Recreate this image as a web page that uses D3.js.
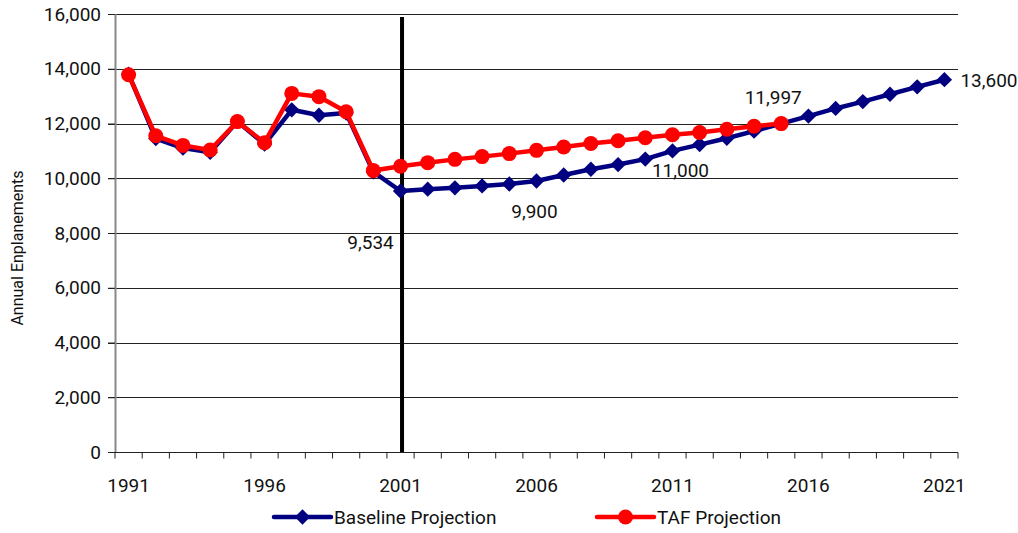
<!DOCTYPE html>
<html>
<head>
<meta charset="utf-8">
<script src="https://cdn.jsdelivr.net/npm/d3@7"></script>
<style>
  html, body { margin: 0; padding: 0; background: #fff; }
  svg { display: block; }
  text { font-family: Roboto, "Open Sans", sans-serif; fill: #111; }
</style>
</head>
<body>
<svg id="chart" width="1018" height="533"></svg>
<script>
// Annual enplanements, 1991-2021
const years = d3.range(1991, 2022);

const baseline = [13800, 11450, 11100, 10950, 12070, 11250, 12500, 12300, 12380, 10230,
                  9534, 9600, 9650, 9720, 9790, 9900, 10120, 10330, 10500, 10700,
                  11000, 11230, 11460, 11720, 11997, 12270, 12550, 12800, 13070, 13340, 13600];

const taf = [13780, 11550, 11200, 11030, 12070, 11300, 13100, 12980, 12430, 10280,
             10440, 10570, 10690, 10790, 10900, 11020, 11140, 11270, 11370, 11480,
             11590, 11670, 11790, 11900, 11997];

const yTicks = [0, 2000, 4000, 6000, 8000, 10000, 12000, 14000, 16000];
const xLabelYears = [1991, 1996, 2001, 2006, 2011, 2016, 2021];

// Callout labels: [year, value, dx, dy]
const callouts = [
  { year: 2001, value: 9534, text: "9,534", dx: -30, dy: 58 },
  { year: 2006, value: 9900, text: "9,900", dx: -2, dy: 37 },
  { year: 2011, value: 11000, text: "11,000", dx: 8, dy: 26 },
  { year: 2015, value: 11997, text: "11,997", dx: -8, dy: -20 },
  { year: 2021, value: 13600, text: "13,600", dx: 16, dy: 7 }
];

const svg = d3.select("#chart");
const margin = { left: 115, right: 60, top: 14, bottom: 81 };
const W = 1018, H = 533;
const plotW = W - margin.left - margin.right;   // 843
const plotH = H - margin.top - margin.bottom;   // 438

const x = d3.scaleBand().domain(years).range([margin.left, margin.left + plotW]).paddingInner(0).paddingOuter(0);
const cx = yr => x(yr) + x.bandwidth() / 2;
const y = d3.scaleLinear().domain([0, 16000]).range([margin.top + plotH, margin.top]);

const fmt = d3.format(",");
const labelSize = "19px";

// gridlines
svg.append("g")
  .selectAll("line")
  .data(yTicks.filter(d => d > 0))
  .join("line")
  .attr("x1", margin.left - 7).attr("x2", margin.left + plotW)
  .attr("y1", d => Math.round(y(d)) + 0.5).attr("y2", d => Math.round(y(d)) + 0.5)
  .attr("stroke", "#222").attr("stroke-width", 1);

// y axis
const yAxis = svg.append("g")
  .attr("transform", `translate(${margin.left},0)`)
  .call(d3.axisLeft(y).tickValues(yTicks).tickFormat(fmt).tickSize(7).tickPadding(7));
yAxis.select(".domain").attr("stroke", "#888").attr("stroke-width", 2).attr("d", `M0.5,${y(0)}V${y(16000)}`);
yAxis.selectAll(".tick line").attr("stroke", "#222");
yAxis.selectAll(".tick text").style("font-size", labelSize).attr("fill", "#111");

// x axis
const xAxis = svg.append("g")
  .attr("transform", `translate(0,${y(0) + 0.5})`)
  .call(d3.axisBottom(x).tickValues([]).tickSizeOuter(0));
xAxis.select(".domain").attr("stroke", "#222").attr("stroke-width", 1.2)
  .attr("d", `M${margin.left - 7},0H${margin.left + plotW}`);
// tick marks at category boundaries
xAxis.append("g").selectAll("line")
  .data(d3.range(years.length + 1))
  .join("line")
  .attr("x1", i => margin.left + i * x.bandwidth()).attr("x2", i => margin.left + i * x.bandwidth())
  .attr("y1", 0).attr("y2", 6)
  .attr("stroke", "#222");
xAxis.append("g").selectAll("text")
  .data(xLabelYears)
  .join("text")
  .attr("x", d => cx(d)).attr("y", 39)
  .attr("text-anchor", "middle")
  .style("font-size", labelSize)
  .text(d => d);

// y axis title
svg.append("text")
  .attr("transform", `translate(23,${margin.top + plotH / 2 + 15}) rotate(-90)`)
  .attr("text-anchor", "middle")
  .style("font-size", "16px")
  .text("Annual Enplanements");

// 2001 marker line
svg.append("line")
  .attr("x1", cx(2001) + 1.5).attr("x2", cx(2001) + 1.5)
  .attr("y1", margin.top + 3).attr("y2", y(0))
  .attr("stroke", "#000").attr("stroke-width", 4);

const navy = "#000080", red = "#ff0000";
const line = d3.line().x(d => cx(d.year)).y(d => y(d.value));

const baseData = years.map((yr, i) => ({ year: yr, value: baseline[i] }));
const tafData = taf.map((v, i) => ({ year: years[i], value: v }));

const diamond = d3.symbol().type(d3.symbolDiamond2).size(150);

// baseline series
svg.append("path").datum(baseData)
  .attr("d", line).attr("fill", "none").attr("stroke", navy).attr("stroke-width", 4.5)
  .attr("stroke-linejoin", "round");
svg.append("g").selectAll("path").data(baseData).join("path")
  .attr("transform", d => `translate(${cx(d.year)},${y(d.value)})`)
  .attr("d", diamond).attr("fill", navy);

// TAF series
svg.append("path").datum(tafData)
  .attr("d", line).attr("fill", "none").attr("stroke", red).attr("stroke-width", 4.5)
  .attr("stroke-linejoin", "round");
svg.append("g").selectAll("circle").data(tafData).join("circle")
  .attr("cx", d => cx(d.year)).attr("cy", d => y(d.value)).attr("r", 7.5)
  .attr("fill", red);

// callouts
svg.append("g").selectAll("text").data(callouts).join("text")
  .attr("x", d => cx(d.year) + d.dx)
  .attr("y", d => y(d.value) + d.dy)
  .attr("text-anchor", d => d.year === 2021 ? "start" : "middle")
  .style("font-size", labelSize)
  .text(d => d.text);

// legend
const legend = svg.append("g").attr("transform", "translate(0,517)");
const legendItems = [
  { name: "Baseline Projection", color: navy, shape: "diamond", x0: 274 },
  { name: "TAF Projection", color: red, shape: "circle", x0: 597 }
];
legendItems.forEach(it => {
  const g = legend.append("g").attr("transform", `translate(${it.x0},0)`);
  g.append("line").attr("x1", 0).attr("x2", 57).attr("y1", 0).attr("y2", 0)
    .attr("stroke", it.color).attr("stroke-width", 4.5).attr("stroke-linecap", "round");
  if (it.shape === "diamond") {
    g.append("path").attr("transform", "translate(28.5,0)").attr("d", diamond).attr("fill", it.color);
  } else {
    g.append("circle").attr("cx", 28.5).attr("cy", 0).attr("r", 7.5).attr("fill", it.color);
  }
  g.append("text").attr("x", 60).attr("y", 7).style("font-size", labelSize).text(it.name);
});
</script>
</body>
</html>
